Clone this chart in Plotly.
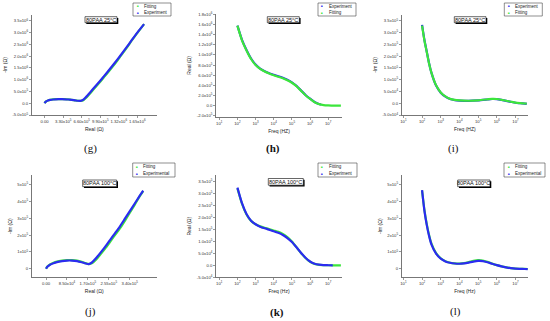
import plotly.graph_objects as go

W, H = 550, 321
BLUE = "#2b2bf0"
GREEN = "#3be63b"

# ---------------- data ----------------
# (g) Nyquist, 80PAA 25°C
g_exp_re = [0, 1e4, 3e4, 6e4, 1e5, 1.5e5, 2e5, 2.5e5, 3.1e5, 3.6e5, 4.2e5, 4.8e5, 5.4e5, 5.9e5, 6.4e5,
            6.8e5, 7.2e5, 7.7e5, 8.2e5, 9.0e5, 9.7e5, 1.05e6, 1.15e6, 1.25e6, 1.35e6, 1.45e6, 1.55e6, 1.65e6, 1.77e6]
g_exp_im = [0, 4e4, 8e4, 1.15e5, 1.4e5, 1.58e5, 1.67e5, 1.71e5, 1.72e5, 1.68e5, 1.58e5, 1.43e5, 1.22e5, 1.05e5, 1.0e5,
            1.35e5, 2.2e5, 3.5e5, 4.9e5, 7.1e5, 9.0e5, 1.13e6, 1.42e6, 1.72e6, 2.03e6, 2.35e6, 2.68e6, 3.0e6, 3.36e6]
g_fit_re = [0, 1e4, 3e4, 6e4, 1e5, 1.5e5, 2e5, 2.5e5, 3.1e5, 3.6e5, 4.2e5, 4.8e5, 5.4e5, 5.9e5, 6.4e5,
            6.9e5, 7.35e5, 7.85e5, 8.35e5, 9.15e5, 9.85e5, 1.065e6, 1.165e6, 1.265e6, 1.36e6, 1.46e6, 1.555e6, 1.655e6, 1.77e6]
g_fit_im = [0, 4.5e4, 8.5e4, 1.2e5, 1.45e5, 1.63e5, 1.73e5, 1.77e5, 1.77e5, 1.71e5, 1.6e5, 1.44e5, 1.22e5, 1.05e5, 1.0e5,
            1.3e5, 2.2e5, 3.5e5, 4.9e5, 7.1e5, 9.0e5, 1.13e6, 1.42e6, 1.72e6, 2.03e6, 2.35e6, 2.68e6, 3.0e6, 3.36e6]

# (h) Real vs frequency, 80PAA 25°C
h_fit_f = [1.0e2, 1.78e2, 3.16e2, 5.62e2, 1.0e3, 1.78e3, 3.16e3, 5.62e3, 1.0e4, 1.78e4, 3.16e4, 5.62e4,
           1.0e5, 1.78e5, 3.16e5, 5.62e5, 1.0e6, 1.78e6, 3.16e6, 5.62e6, 1.0e7, 1.78e7, 3.16e7, 5.0e7]
h_fit = [1.58e6, 1.29e6, 1.09e6, 9.2e5, 8.0e5, 7.25e5, 6.75e5, 6.35e5, 6.0e5, 5.7e5, 5.4e5, 5.0e5,
         4.5e5, 3.85e5, 2.95e5, 2.05e5, 1.3e5, 6.5e4, 2.8e4, 1.0e4, 3e3, 0, -2e3, -3e3]
h_exp_f = [1.0e2, 1.78e2, 3.16e2, 5.62e2, 1.0e3, 1.78e3, 3.16e3, 5.62e3, 1.0e4, 1.78e4, 3.16e4, 5.62e4,
           1.0e5, 1.78e5, 3.16e5, 5.62e5, 1.0e6, 1.78e6, 3.16e6, 4.0e6]
h_exp = [1.58e6, 1.3e6, 1.1e6, 9.3e5, 8.1e5, 7.3e5, 6.8e5, 6.4e5, 6.1e5, 5.8e5, 5.5e5, 5.1e5,
         4.6e5, 3.9e5, 3.0e5, 2.1e5, 1.35e5, 7e4, 3e4, 1.5e4]

# (i) -Im vs frequency, 80PAA 25°C
i_f = [1.0e2, 1.33e2, 1.78e2, 2.37e2, 3.16e2, 5.62e2, 1.0e3, 1.78e3, 3.16e3, 5.62e3, 1.0e4, 3.16e4,
       1.0e5, 3.16e5, 5.62e5, 1.0e6, 1.78e6, 3.16e6, 5.62e6, 1.0e7, 1.78e7, 3.16e7, 4.0e7]
i_exp = [3.33e5, 2.7e5, 2.2e5, 1.7e5, 1.3e5, 7.5e4, 4.5e4, 2.8e4, 1.8e4, 1.35e4, 1.15e4, 1.0e4,
         1.2e4, 1.6e4, 1.8e4, 1.75e4, 1.4e4, 1.0e4, 6e3, 2e3, 0, -2e3, -3e3]
i_fit = [3.3e5, 2.68e5, 2.18e5, 1.69e5, 1.3e5, 7.6e4, 4.6e4, 2.9e4, 1.85e4, 1.4e4, 1.2e4, 1.05e4,
         1.25e4, 1.65e4, 1.85e4, 1.8e4, 1.45e4, 1.05e4, 6.5e3, 2.5e3, 500, -1e3, -2e3]

# (j) Nyquist, 80PAA 100°C
j_exp_re = [0, 5e3, 1.6e4, 3e4, 4.4e4, 6.5e4, 8.5e4, 1.05e5, 1.26e5, 1.45e5, 1.6e5, 1.73e5, 1.85e5, 2.0e5,
            2.2e5, 2.4e5, 2.6e5, 2.8e5, 3.0e5, 3.2e5, 3.4e5, 3.6e5, 3.8e5, 3.95e5]
j_exp_im = [0, 1.2e4, 2.4e4, 3.3e4, 4.0e4, 4.6e4, 4.9e4, 4.9e4, 4.6e4, 3.9e4, 3.2e4, 2.8e4, 3.6e4, 5.8e4,
            9.3e4, 1.3e5, 1.7e5, 2.1e5, 2.5e5, 2.95e5, 3.4e5, 3.85e5, 4.3e5, 4.62e5]
j_fit_re = [0, 5e3, 1.6e4, 3e4, 4.4e4, 6.5e4, 8.5e4, 1.05e5, 1.26e5, 1.45e5, 1.6e5, 1.75e5, 1.88e5, 2.04e5,
            2.24e5, 2.44e5, 2.64e5, 2.84e5, 3.04e5, 3.23e5, 3.42e5, 3.61e5, 3.8e5, 3.95e5]
j_fit_im = [0, 1.3e4, 2.6e4, 3.6e4, 4.3e4, 4.9e4, 5.2e4, 5.2e4, 4.9e4, 4.2e4, 3.4e4, 2.8e4, 3.4e4, 5.5e4,
            9.0e4, 1.27e5, 1.67e5, 2.07e5, 2.47e5, 2.9e5, 3.35e5, 3.8e5, 4.27e5, 4.6e5]

# (k) Real vs frequency, 80PAA 100°C
k_fit_f = [1.0e2, 1.78e2, 3.16e2, 5.62e2, 1.0e3, 1.78e3, 3.16e3, 5.62e3, 1.0e4, 1.78e4, 3.16e4, 5.62e4,
           1.0e5, 1.78e5, 3.16e5, 5.62e5, 1.0e6, 1.78e6, 3.16e6, 5.62e6, 1.0e7, 1.78e7, 3.16e7, 5.0e7]
k_fit = [3.22e5, 2.58e5, 2.13e5, 1.86e5, 1.72e5, 1.63e5, 1.57e5, 1.52e5, 1.46e5, 1.4e5, 1.31e5, 1.18e5,
         1.0e5, 7.6e4, 5.2e4, 3.1e4, 1.5e4, 6e3, 2e3, 1e3, 500, 300, 200, 200]
k_exp_f = [1.0e2, 1.78e2, 3.16e2, 5.62e2, 1.0e3, 1.78e3, 3.16e3, 5.62e3, 1.0e4, 1.78e4, 3.16e4, 5.62e4,
           1.0e5, 1.78e5, 3.16e5, 5.62e5, 1.0e6, 1.78e6, 3.16e6, 5.62e6, 1.0e7, 1.78e7]
k_exp = [3.25e5, 2.6e5, 2.15e5, 1.87e5, 1.72e5, 1.62e5, 1.55e5, 1.49e5, 1.43e5, 1.36e5, 1.27e5, 1.14e5,
         9.8e4, 7.6e4, 5.3e4, 3.2e4, 1.6e4, 7e3, 3e3, 1e3, 500, 0]

# (l) -Im vs frequency, 80PAA 100°C
l_f = [1.0e2, 1.33e2, 1.78e2, 2.37e2, 3.16e2, 5.62e2, 1.0e3, 1.78e3, 3.16e3, 5.62e3, 1.0e4, 1.78e4, 3.16e4,
       5.62e4, 1.0e5, 1.78e5, 3.16e5, 5.62e5, 1.0e6, 1.78e6, 3.16e6, 5.62e6, 1.0e7, 1.78e7, 3.16e7, 4.5e7]
l_exp = [4.65e5, 3.45e5, 2.6e5, 1.95e5, 1.45e5, 9e4, 6.0e4, 4.4e4, 3.6e4, 3.15e4, 3.0e4, 3.2e4, 3.7e4,
         4.3e4, 4.7e4, 4.6e4, 3.9e4, 3.0e4, 2.2e4, 1.5e4, 9e3, 4e3, 1e3, 0, -1e3, -2e3]
l_fit = [4.62e5, 3.5e5, 2.65e5, 2.0e5, 1.5e5, 9.3e4, 6.2e4, 4.5e4, 3.6e4, 3.2e4, 3.1e4, 3.4e4, 4.0e4,
         4.7e4, 5.1e4, 4.9e4, 4.1e4, 3.1e4, 2.2e4, 1.5e4, 9e3, 4.5e3, 1.5e3, 500, -500, -1e3]

# tick labels
g_xt = [0, 3.3e5, 6.6e5, 9.9e5, 1.32e6, 1.65e6]
g_xl = ["0.00", "3.30x10<sup>5</sup>", "6.60x10<sup>5</sup>", "9.90x10<sup>5</sup>", "1.32x10<sup>6</sup>", "1.65x10<sup>6</sup>"]
g_yt = [-5e5, 0, 5e5, 1e6, 1.5e6, 2e6, 2.5e6, 3e6, 3.5e6]
g_yl = ["-5.0x10<sup>5</sup>", "0.0", "5.0x10<sup>5</sup>", "1.0x10<sup>6</sup>", "1.5x10<sup>6</sup>",
        "2.0x10<sup>6</sup>", "2.5x10<sup>6</sup>", "3.0x10<sup>6</sup>", "3.5x10<sup>6</sup>"]
h_yt = [-2e5, 0, 2e5, 4e5, 6e5, 8e5, 1e6, 1.2e6, 1.4e6, 1.6e6, 1.8e6]
h_yl = ["-2.0x10<sup>5</sup>", "0.0", "2.0x10<sup>5</sup>", "4.0x10<sup>5</sup>", "6.0x10<sup>5</sup>",
        "8.0x10<sup>5</sup>", "1.0x10<sup>6</sup>", "1.2x10<sup>6</sup>", "1.4x10<sup>6</sup>",
        "1.6x10<sup>6</sup>", "1.8x10<sup>6</sup>"]
i_yt = [-5e4, 0, 5e4, 1e5, 1.5e5, 2e5, 2.5e5, 3e5, 3.5e5]
i_yl = ["-5.0x10<sup>4</sup>", "0.0", "5.0x10<sup>4</sup>", "1.0x10<sup>5</sup>", "1.5x10<sup>5</sup>",
        "2.0x10<sup>5</sup>", "2.5x10<sup>5</sup>", "3.0x10<sup>5</sup>", "3.5x10<sup>5</sup>"]
j_xt = [0, 8.5e4, 1.7e5, 2.55e5, 3.4e5]
j_xl = ["0.00", "8.50x10<sup>4</sup>", "1.70x10<sup>5</sup>", "2.55x10<sup>5</sup>", "3.40x10<sup>5</sup>"]
j_yt = [0, 1e5, 2e5, 3e5, 4e5, 5e5]
j_yl = ["0", "1x10<sup>5</sup>", "2x10<sup>5</sup>", "3x10<sup>5</sup>", "4x10<sup>5</sup>", "5x10<sup>5</sup>"]
log_t = [1e1, 1e2, 1e3, 1e4, 1e5, 1e6, 1e7]
log_l = ["10<sup>1</sup>", "10<sup>2</sup>", "10<sup>3</sup>", "10<sup>4</sup>", "10<sup>5</sup>", "10<sup>6</sup>", "10<sup>7</sup>"]

# --------------- layout helpers ---------------
def px(x):
    return x / W

def py(y):
    return 1 - y / H

TICKFONT = dict(family="Liberation Sans, Arial, sans-serif", size=4.2, color="#333")
TITLEFONT = dict(family="Liberation Sans, Arial, sans-serif", size=5, color="#222")

def axis_common(**kw):
    d = dict(showline=True, linecolor="#555", linewidth=0.8, mirror=False, showgrid=False,
             zeroline=False, ticks="outside", ticklen=2, tickwidth=0.6, tickcolor="#555",
             tickfont=TICKFONT, tickmode="array", title_font=TITLEFONT, automargin=False,
             tickangle=0)
    d.update(kw)
    return d

fig = go.Figure()

panels = [
    dict(k="1", x0=31.7, x1=157.0, yt=15.0, yb=115.0),
    dict(k="2", x0=216.0, x1=342.0, yt=14.0, yb=116.7),
    dict(k="3", x0=401.7, x1=528.0, yt=15.0, yb=115.0),
    dict(k="4", x0=31.7, x1=156.7, yt=175.0, yb=277.3),
    dict(k="5", x0=216.0, x1=342.0, yt=175.0, yb=277.3),
    dict(k="6", x0=401.7, x1=528.0, yt=175.0, yb=277.3),
]

lay = {}
for p in panels:
    s = "" if p["k"] == "1" else p["k"]
    lay["xaxis" + s] = dict(domain=[px(p["x0"]), px(p["x1"])], anchor="y" + s)
    lay["yaxis" + s] = dict(domain=[py(p["yb"]), py(p["yt"])], anchor="x" + s)

lay["xaxis"].update(axis_common(range=[-2.3e5, 2.0e6], tickvals=g_xt, ticktext=g_xl,
                                title=dict(text="Real (Ω)", standoff=4)))
lay["yaxis"].update(axis_common(range=[-5e5, 3.75e6], tickvals=g_yt, ticktext=g_yl,
                                title=dict(text="-Im (Ω)", standoff=4)))
lay["xaxis2"].update(axis_common(type="log", range=[0.82, 7.76], tickvals=log_t, ticktext=log_l,
                                 title=dict(text="Freq (HZ)", standoff=4)))
lay["yaxis2"].update(axis_common(range=[-2.2e5, 1.81e6], tickvals=h_yt, ticktext=h_yl,
                                 title=dict(text="Real (Ω)", standoff=4)))
lay["xaxis3"].update(axis_common(type="log", range=[0.91, 7.67], tickvals=log_t, ticktext=log_l,
                                 title=dict(text="Freq (HZ)", standoff=4)))
lay["yaxis3"].update(axis_common(range=[-5e4, 3.75e5], tickvals=i_yt, ticktext=i_yl,
                                 title=dict(text="-Im (Ω)", standoff=4)))
lay["xaxis4"].update(axis_common(range=[-5.85e4, 4.5e5], tickvals=j_xt, ticktext=j_xl,
                                 title=dict(text="Real (Ω)", standoff=4)))
lay["yaxis4"].update(axis_common(range=[-5e4, 5.55e5], tickvals=j_yt, ticktext=j_yl,
                                 title=dict(text="-Im (Ω)", standoff=4)))
lay["xaxis5"].update(axis_common(type="log", range=[0.82, 7.76], tickvals=log_t, ticktext=log_l,
                                 title=dict(text="Freq (Hz)", standoff=4)))
lay["yaxis5"].update(axis_common(range=[-5e4, 3.78e5], tickvals=i_yt, ticktext=i_yl,
                                 title=dict(text="Real (Ω)", standoff=4)))
lay["xaxis6"].update(axis_common(type="log", range=[0.91, 7.67], tickvals=log_t, ticktext=log_l,
                                 title=dict(text="Freq (Hz)", standoff=4)))
lay["yaxis6"].update(axis_common(range=[-5e4, 5.55e5], tickvals=j_yt, ticktext=j_yl,
                                 title=dict(text="-Im (Ω)", standoff=4)))

def line(x, y, color, s, name):
    return go.Scatter(x=x, y=y, mode="lines", line=dict(color=color, width=2.2, shape="spline", smoothing=0.6),
                      xaxis="x" + s, yaxis="y" + s, name=name, showlegend=False)

fig.add_trace(line(g_fit_re, g_fit_im, GREEN, "", "Fitting"))
fig.add_trace(line(g_exp_re, g_exp_im, BLUE, "", "Experiment"))
fig.add_trace(line(h_exp_f, h_exp, BLUE, "2", "Experiment"))
fig.add_trace(line(h_fit_f, h_fit, GREEN, "2", "Fitting"))
fig.add_trace(line(i_f, i_exp, BLUE, "3", "Experiment"))
fig.add_trace(line(i_f, i_fit, GREEN, "3", "Fitting"))
fig.add_trace(line(j_fit_re, j_fit_im, GREEN, "4", "Fitting"))
fig.add_trace(line(j_exp_re, j_exp_im, BLUE, "4", "Experimental"))
fig.add_trace(line(k_fit_f, k_fit, GREEN, "5", "Fitting"))
fig.add_trace(line(k_exp_f, k_exp, BLUE, "5", "Experiment"))
fig.add_trace(line(l_f, l_fit, GREEN, "6", "Fitting"))
fig.add_trace(line(l_f, l_exp, BLUE, "6", "Experimental"))

shapes = []
annots = []

def legend_box(x0, x1, y0, y1, entries):
    shapes.append(dict(type="rect", xref="paper", yref="paper", x0=px(x0), x1=px(x1), y0=py(y1), y1=py(y0),
                       line=dict(color="#444", width=0.6), fillcolor="white", layer="above"))
    n = len(entries)
    for idx, (name, color) in enumerate(entries):
        yc = y0 + (y1 - y0) * (idx + 0.5) / n
        annots.append(dict(xref="paper", yref="paper", x=px(x0 + 4.5), y=py(yc), text="■",
                           showarrow=False, font=dict(size=3, color=color), xanchor="center", yanchor="middle"))
        annots.append(dict(xref="paper", yref="paper", x=px(x0 + 8.5), y=py(yc), text=name,
                           showarrow=False, font=dict(family="Liberation Sans, Arial", size=4.5, color="#222"),
                           xanchor="left", yanchor="middle"))

legend_box(133, 171, 3, 16, [("Fitting", GREEN), ("Experiment", BLUE)])
legend_box(318, 356, 3, 16, [("Experiment", BLUE), ("Fitting", GREEN)])
legend_box(504.3, 542.3, 3, 16, [("Experiment", BLUE), ("Fitting", GREEN)])
legend_box(132.7, 175, 163, 177, [("Fitting", GREEN), ("Experimental", BLUE)])
legend_box(318, 357, 163, 177, [("Fitting", GREEN), ("Experiment", BLUE)])
legend_box(504, 545, 163, 177, [("Fitting", GREEN), ("Experimental", BLUE)])

def tag(x0, x1, y0, y1, text):
    shapes.append(dict(type="rect", xref="paper", yref="paper", x0=px(x0 + 1.3), x1=px(x1 + 1.3),
                       y0=py(y1 + 1.3), y1=py(y0 + 1.3), line=dict(width=0), fillcolor="black", layer="above"))
    shapes.append(dict(type="rect", xref="paper", yref="paper", x0=px(x0), x1=px(x1), y0=py(y1), y1=py(y0),
                       line=dict(color="black", width=0.6), fillcolor="white", layer="above"))
    annots.append(dict(xref="paper", yref="paper", x=px((x0 + x1) / 2), y=py((y0 + y1) / 2), text=text,
                       showarrow=False, font=dict(family="Liberation Sans, Arial", size=5.5, color="#111"),
                       xanchor="center", yanchor="middle"))

tag(85, 117, 16.7, 22.7, "80PAA 25°C")
tag(267.3, 299.3, 16.7, 22.7, "80PAA 25°C")
tag(454.3, 486, 16.7, 22.7, "80PAA 25°C")
tag(82.7, 116.7, 180, 186.7, "80PAA 100°C")
tag(268.3, 303.3, 178.5, 185.2, "80PAA 100°C")
tag(457.7, 490, 180, 186.7, "80PAA 100°C")

def caption(x, y, text, bold=False):
    annots.append(dict(xref="paper", yref="paper", x=px(x), y=py(y), text=("<b>%s</b>" % text) if bold else text,
                       showarrow=False, font=dict(family="Liberation Serif, Times New Roman, serif", size=11, color="#111"),
                       xanchor="center", yanchor="middle"))

caption(90, 148, "(g)")
caption(273, 148, "(h)", bold=True)
caption(453, 149, "(i)")
caption(90, 311.5, "(j)")
caption(276.5, 312.5, "(k)", bold=True)
caption(455, 311.5, "(l)")

fig.update_layout(width=W, height=H, margin=dict(l=0, r=0, t=0, b=0, autoexpand=False), paper_bgcolor="white",
                  plot_bgcolor="white", showlegend=False, hovermode=False,
                  shapes=shapes, annotations=annots, **lay)

fig.write_html("out.html", config={"displayModeBar": False, "staticPlot": True},
               post_script="document.body.style.margin='0';document.body.style.padding='0';")
